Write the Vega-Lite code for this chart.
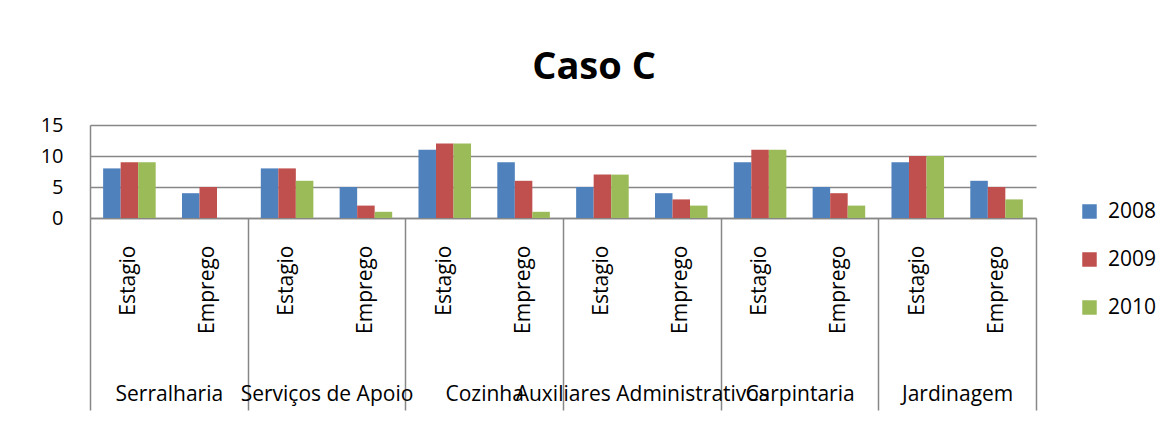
{
  "$schema": "https://vega.github.io/schema/vega-lite/v6.json",
  "width": 946,
  "height": 93,
  "autosize": {"type": "none"},
  "padding": {"left": 90, "top": 125, "right": 133, "bottom": 203},
  "background": "white",
  "config": {
    "font": "Open Sans",
    "view": {"stroke": null},
    "axis": {"labelFont": "Open Sans", "labelColor": "black"}
  },
  "title": {
    "text": "Caso C",
    "font": "Open Sans",
    "fontSize": 38,
    "fontWeight": "bold",
    "color": "black",
    "anchor": "middle",
    "dx": 31,
    "offset": 28
  },
  "data": {
    "values": [
      {"Categoria": "Serralharia", "Tipo": "Estagio", "Ano": "2008", "Valor": 8},
      {"Categoria": "Serralharia", "Tipo": "Estagio", "Ano": "2009", "Valor": 9},
      {"Categoria": "Serralharia", "Tipo": "Estagio", "Ano": "2010", "Valor": 9},
      {"Categoria": "Serralharia", "Tipo": "Emprego", "Ano": "2008", "Valor": 4},
      {"Categoria": "Serralharia", "Tipo": "Emprego", "Ano": "2009", "Valor": 5},
      {"Categoria": "Serralharia", "Tipo": "Emprego", "Ano": "2010", "Valor": 0},
      {"Categoria": "Serviços de Apoio", "Tipo": "Estagio", "Ano": "2008", "Valor": 8},
      {"Categoria": "Serviços de Apoio", "Tipo": "Estagio", "Ano": "2009", "Valor": 8},
      {"Categoria": "Serviços de Apoio", "Tipo": "Estagio", "Ano": "2010", "Valor": 6},
      {"Categoria": "Serviços de Apoio", "Tipo": "Emprego", "Ano": "2008", "Valor": 5},
      {"Categoria": "Serviços de Apoio", "Tipo": "Emprego", "Ano": "2009", "Valor": 2},
      {"Categoria": "Serviços de Apoio", "Tipo": "Emprego", "Ano": "2010", "Valor": 1},
      {"Categoria": "Cozinha", "Tipo": "Estagio", "Ano": "2008", "Valor": 11},
      {"Categoria": "Cozinha", "Tipo": "Estagio", "Ano": "2009", "Valor": 12},
      {"Categoria": "Cozinha", "Tipo": "Estagio", "Ano": "2010", "Valor": 12},
      {"Categoria": "Cozinha", "Tipo": "Emprego", "Ano": "2008", "Valor": 9},
      {"Categoria": "Cozinha", "Tipo": "Emprego", "Ano": "2009", "Valor": 6},
      {"Categoria": "Cozinha", "Tipo": "Emprego", "Ano": "2010", "Valor": 1},
      {"Categoria": "Auxiliares Administrativos", "Tipo": "Estagio", "Ano": "2008", "Valor": 5},
      {"Categoria": "Auxiliares Administrativos", "Tipo": "Estagio", "Ano": "2009", "Valor": 7},
      {"Categoria": "Auxiliares Administrativos", "Tipo": "Estagio", "Ano": "2010", "Valor": 7},
      {"Categoria": "Auxiliares Administrativos", "Tipo": "Emprego", "Ano": "2008", "Valor": 4},
      {"Categoria": "Auxiliares Administrativos", "Tipo": "Emprego", "Ano": "2009", "Valor": 3},
      {"Categoria": "Auxiliares Administrativos", "Tipo": "Emprego", "Ano": "2010", "Valor": 2},
      {"Categoria": "Carpintaria", "Tipo": "Estagio", "Ano": "2008", "Valor": 9},
      {"Categoria": "Carpintaria", "Tipo": "Estagio", "Ano": "2009", "Valor": 11},
      {"Categoria": "Carpintaria", "Tipo": "Estagio", "Ano": "2010", "Valor": 11},
      {"Categoria": "Carpintaria", "Tipo": "Emprego", "Ano": "2008", "Valor": 5},
      {"Categoria": "Carpintaria", "Tipo": "Emprego", "Ano": "2009", "Valor": 4},
      {"Categoria": "Carpintaria", "Tipo": "Emprego", "Ano": "2010", "Valor": 2},
      {"Categoria": "Jardinagem", "Tipo": "Estagio", "Ano": "2008", "Valor": 9},
      {"Categoria": "Jardinagem", "Tipo": "Estagio", "Ano": "2009", "Valor": 10},
      {"Categoria": "Jardinagem", "Tipo": "Estagio", "Ano": "2010", "Valor": 10},
      {"Categoria": "Jardinagem", "Tipo": "Emprego", "Ano": "2008", "Valor": 6},
      {"Categoria": "Jardinagem", "Tipo": "Emprego", "Ano": "2009", "Valor": 5},
      {"Categoria": "Jardinagem", "Tipo": "Emprego", "Ano": "2010", "Valor": 3}
    ]
  },
  "transform": [
    {"calculate": "datum.Categoria + '|' + datum.Tipo", "as": "Chave"}
  ],
  "layer": [
    {
      "mark": {"type": "bar"},
      "encoding": {
        "x": {
          "field": "Chave",
          "type": "nominal",
          "sort": null,
          "scale": {"paddingInner": 0, "paddingOuter": 0},
          "axis": {
            "orient": "bottom",
            "title": null,
            "labelExpr": "split(datum.label, '|')[1]",
            "labelAngle": -90,
            "labelAlign": "right",
            "labelBaseline": "middle",
            "labelFontSize": 21,
            "labelPadding": 27,
            "labelOverlap": false,
            "ticks": false,
            "domain": true,
            "domainColor": "#878787",
            "domainWidth": 1.5,
            "grid": false
          }
        },
        "xOffset": {
          "field": "Ano",
          "type": "nominal",
          "scale": {"paddingInner": 0, "paddingOuter": 0.75}
        },
        "y": {
          "field": "Valor",
          "type": "quantitative",
          "scale": {"domain": [0, 15], "nice": false},
          "axis": {
            "title": null,
            "values": [0, 5, 10, 15],
            "labelOverlap": false,
            "ticks": false,
            "domain": true,
            "domainColor": "#878787",
            "domainWidth": 1.5,
            "grid": true,
            "gridColor": "#878787",
            "gridWidth": 1.5,
            "labelFontSize": 20,
            "labelPadding": 27
          }
        },
        "color": {
          "field": "Ano",
          "type": "nominal",
          "scale": {"domain": ["2008", "2009", "2010"], "range": ["#4F81BD", "#C0504D", "#9BBB59"]},
          "legend": {
            "title": null,
            "orient": "none",
            "legendX": 989,
            "legendY": 76,
            "symbolType": "square",
            "symbolSize": 210,
            "symbolStrokeWidth": 0,
            "labelFontSize": 21,
            "labelFont": "Open Sans",
            "labelColor": "black",
            "labelOffset": 8,
            "rowPadding": 26,
            "padding": 0
          }
        }
      }
    },
    {
      "mark": {"type": "point", "opacity": 0},
      "encoding": {
        "x": {
          "field": "Categoria",
          "type": "nominal",
          "sort": null,
          "scale": {"paddingInner": 0, "paddingOuter": 0},
          "axis": {
            "orient": "bottom",
            "title": null,
            "labelAngle": 0,
            "labelFontSize": 21,
            "labelPadding": -27,
            "labelOverlap": false,
            "labelBound": false,
            "labelLimit": 0,
            "ticks": true,
            "tickBand": "extent",
            "tickSize": 192,
            "tickColor": "#878787",
            "tickWidth": 1.5,
            "domain": false,
            "grid": false
          }
        },
        "y": {
          "field": "Valor",
          "type": "quantitative",
          "scale": {"domain": [0, 15], "nice": false},
          "axis": {
            "title": null,
            "values": [0, 5, 10, 15],
            "labelOverlap": false,
            "ticks": false,
            "domain": true,
            "domainColor": "#878787",
            "domainWidth": 1.5,
            "grid": true,
            "gridColor": "#878787",
            "gridWidth": 1.5,
            "labelFontSize": 20,
            "labelPadding": 27
          }
        }
      }
    }
  ],
  "resolve": {"scale": {"x": "independent"}, "axis": {"x": "independent"}}
}
